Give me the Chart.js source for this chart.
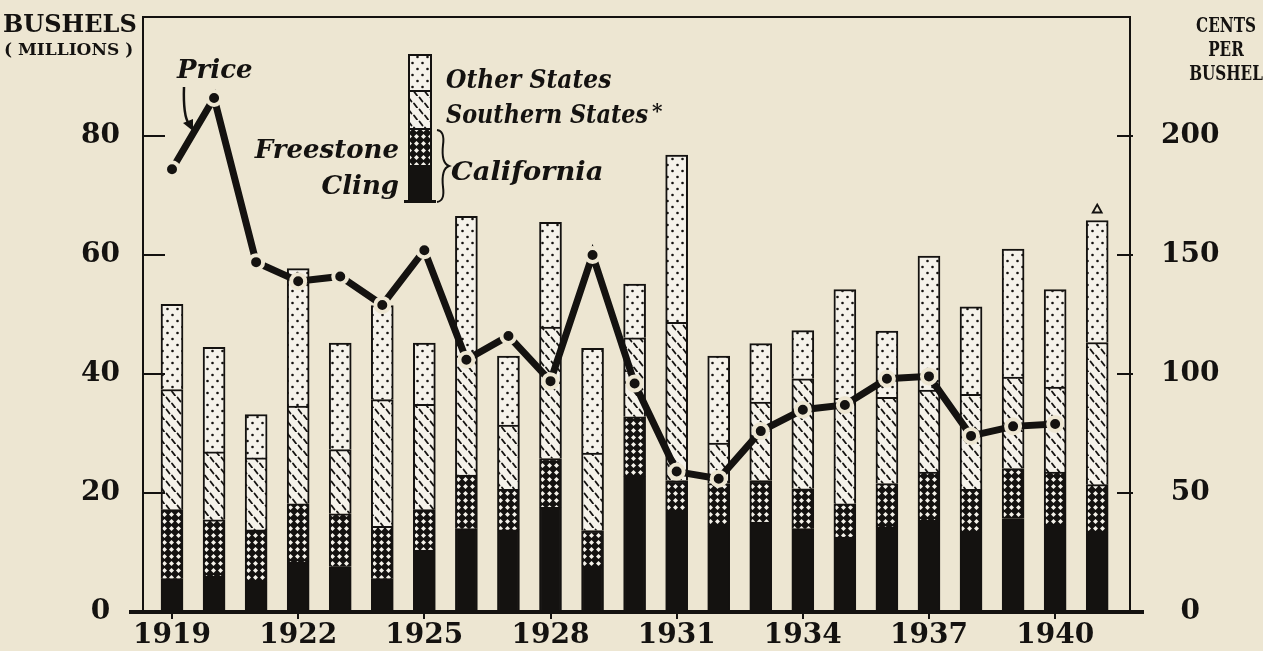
<!DOCTYPE html>
<html>
<head>
<meta charset="utf-8">
<title>Peaches: production and price, 1919-1941</title>
<script src="https://cdn.jsdelivr.net/npm/chart.js@4.4.1/dist/chart.umd.min.js"></script>
<style>
  html, body { margin: 0; padding: 0; background: #ede6d2; }
  #wrap { width: 1263px; height: 651px; position: relative; }
</style>
</head>
<body>
<div id="wrap"><canvas id="grafico"></canvas></div>
<script>
// production by group, millions of bushels
var years = [1919, 1920, 1921, 1922, 1923, 1924, 1925, 1926, 1927, 1928, 1929, 1930,
             1931, 1932, 1933, 1934, 1935, 1936, 1937, 1938, 1939, 1940, 1941]
var cling     = [5.6, 6.0, 5.0, 8.4, 7.6, 5.6, 10.4, 14.0, 13.8, 17.6, 7.7, 22.7,
                 17.1, 14.4, 15.1, 14.0, 12.6, 14.3, 15.4, 13.4, 15.7, 14.6, 13.4]
var freestone = [11.6, 9.5, 8.8, 9.8, 8.9, 8.8, 6.8, 9.0, 6.8, 8.2, 6.0, 10.1,
                 5.0, 7.2, 7.0, 6.7, 5.6, 7.3, 8.1, 7.2, 8.4, 8.9, 8.0]
var southern  = [20.2, 11.4, 12.1, 16.4, 10.8, 21.3, 17.7, 20.0, 10.8, 22.1, 13.0, 13.3,
                 26.6, 6.8, 13.2, 18.5, 17.7, 14.5, 13.8, 16.0, 15.4, 14.3, 23.9]
var other     = [14.3, 17.6, 7.3, 23.1, 17.9, 15.8, 10.3, 23.5, 11.6, 17.6, 17.6, 9.0,
                 28.1, 14.6, 9.8, 8.1, 18.3, 11.1, 22.5, 14.7, 21.5, 16.4, 20.5]

// price, cents per bushel
var priceYears = [1919, 1920, 1921, 1922, 1923, 1924, 1925, 1926, 1927, 1928, 1929,
                  1930, 1931, 1932, 1933, 1934, 1935, 1936, 1937, 1938, 1939, 1940]
var price = [186, 216, 147, 139, 141, 129, 152, 106, 116, 97, 150,
             96, 59, 56, 76, 85, 87, 98, 99, 74, 78, 79]

var yearLabels = [1919, 1922, 1925, 1928, 1931, 1934, 1937, 1940]
var bushelTicks = [0, 20, 40, 60, 80]
var centTicks = [0, 50, 100, 150, 200]

var BG = '#ede6d2'
var LIGHT = '#f5f2ea'
var INK = '#141210'

var canvas = document.getElementById('grafico')
var ctx = canvas.getContext('2d')

function makePattern(w, h, draw) {
  var c = document.createElement('canvas')
  c.width = w
  c.height = h
  draw(c.getContext('2d'))
  return ctx.createPattern(c, 'repeat')
}

var dotsPattern = makePattern(10, 12, function (g) {
  g.fillStyle = LIGHT
  g.fillRect(0, 0, 10, 12)
  g.fillStyle = INK
  g.beginPath(); g.arc(2.5, 3, 1.3, 0, Math.PI * 2); g.fill()
  g.beginPath(); g.arc(7.5, 9, 1.3, 0, Math.PI * 2); g.fill()
})

var dashPattern = makePattern(11, 12, function (g) {
  g.fillStyle = LIGHT
  g.fillRect(0, 0, 11, 12)
  g.strokeStyle = INK
  g.lineWidth = 1.8
  g.lineCap = 'round'
  g.beginPath(); g.moveTo(1.5, 1.5); g.lineTo(4.5, 5.5); g.stroke()
  g.beginPath(); g.moveTo(7, 7.5); g.lineTo(10, 11.5); g.stroke()
})

var crossPattern = makePattern(7, 7, function (g) {
  g.fillStyle = INK
  g.fillRect(0, 0, 7, 7)
  g.fillStyle = LIGHT
  g.beginPath()
  g.moveTo(3.5, 1); g.lineTo(6, 3.5); g.lineTo(3.5, 6); g.lineTo(1, 3.5)
  g.closePath()
  g.fill()
})

function points(xs, ys) {
  return xs.map(function (x, i) { return { x: x, y: ys[i] } })
}

function barSet(label, values, fill) {
  return {
    type: 'bar',
    label: label,
    data: points(years, values),
    backgroundColor: fill,
    borderColor: INK,
    borderWidth: 2,
    barThickness: 22,
    yAxisID: 'y',
    order: 1
  }
}

// text squeezed sideways, the old type is narrower than DejaVu
function squeezed(c, text, x, y, sx) {
  c.save()
  c.translate(x, y)
  c.scale(sx, 1)
  c.fillText(text, 0, 0)
  c.restore()
}

var serif = 'DejaVu Serif'
var tickFont = { family: serif, weight: 'bold', size: 28 }

// background, frame, inward ticks, key and notes
var decor = {
  id: 'decor',
  beforeDraw: function (chart) {
    var c = chart.ctx
    c.save()
    c.fillStyle = BG
    c.fillRect(0, 0, chart.width, chart.height)
    c.restore()
  },
  afterDraw: function (chart) {
    var c = chart.ctx
    var a = chart.chartArea
    var sy = chart.scales.y
    var sy2 = chart.scales.y2
    var sx = chart.scales.x
    c.save()
    c.strokeStyle = INK
    c.fillStyle = INK

    // frame
    c.lineWidth = 2
    c.beginPath()
    c.moveTo(a.left, a.bottom); c.lineTo(a.left, a.top); c.lineTo(a.right, a.top); c.lineTo(a.right, a.bottom)
    c.stroke()
    c.lineWidth = 4
    c.beginPath(); c.moveTo(a.left - 14, a.bottom); c.lineTo(a.right + 14, a.bottom); c.stroke()

    c.lineWidth = 2
    bushelTicks.slice(1).forEach(function (v) {
      var y = sy.getPixelForValue(v)
      c.beginPath(); c.moveTo(a.left, y); c.lineTo(a.left + 22, y); c.stroke()
    })
    centTicks.slice(1).forEach(function (v) {
      var y = sy2.getPixelForValue(v)
      c.beginPath(); c.moveTo(a.right - 13, y); c.lineTo(a.right + 3, y); c.stroke()
    })

    // axis titles
    c.font = 'bold 24px "' + serif + '"'
    c.textAlign = 'left'
    c.textBaseline = 'alphabetic'
    c.fillText('BUSHELS', 3, 32)
    c.font = 'bold 17px "' + serif + '"'
    c.fillText('( MILLIONS )', 4, 55)
    c.font = 'bold 20px "' + serif + '"'
    c.textAlign = 'center'
    squeezed(c, 'CENTS', 1226, 32, 0.76)
    squeezed(c, 'PER', 1226, 56, 0.76)
    squeezed(c, 'BUSHEL', 1226, 80, 0.76)

    // key bar
    var kx = 409, kw = 22
    var keys = [[55, 91, dotsPattern], [91, 129, dashPattern], [129, 166, crossPattern], [166, 201, INK]]
    keys.forEach(function (k) {
      c.fillStyle = k[2]
      c.fillRect(kx, k[0], kw, k[1] - k[0])
      c.strokeStyle = INK
      c.lineWidth = 2
      c.strokeRect(kx, k[0], kw, k[1] - k[0])
    })
    c.fillStyle = INK
    c.fillRect(404, 200, 32, 3)

    // key text
    c.font = 'italic bold 26px "' + serif + '"'
    c.textAlign = 'left'
    squeezed(c, 'Other States', 446, 88, 0.9)
    squeezed(c, 'Southern States', 446, 123, 0.86)
    var sw = c.measureText('Southern States').width * 0.86
    c.font = 'bold 20px "' + serif + '"'
    c.fillText('*', 446 + sw + 4, 118)
    c.font = 'italic bold 26px "' + serif + '"'
    squeezed(c, 'California', 451, 180, 1.05)
    c.textAlign = 'right'
    c.fillText('Freestone', 399, 158)
    c.fillText('Cling', 399, 194)

    // brace
    c.lineWidth = 2
    c.beginPath()
    c.moveTo(437, 130)
    c.quadraticCurveTo(445, 131, 443, 145)
    c.quadraticCurveTo(441, 163, 449, 166)
    c.quadraticCurveTo(441, 169, 443, 187)
    c.quadraticCurveTo(445, 201, 437, 202)
    c.stroke()

    // price note and arrow
    c.textAlign = 'left'
    c.fillText('Price', 177, 78)
    c.lineWidth = 2.5
    c.beginPath()
    c.moveTo(184, 87)
    c.quadraticCurveTo(183, 116, 189, 124)
    c.stroke()
    c.beginPath()
    c.moveTo(193, 131); c.lineTo(183, 123); c.lineTo(193, 119)
    c.closePath()
    c.fill()

    // open triangle over the last bar
    var last = years.length - 1
    var total = cling[last] + freestone[last] + southern[last] + other[last]
    var tx = sx.getPixelForValue(years[last])
    var ty = sy.getPixelForValue(total) - 11
    c.lineWidth = 1.8
    c.beginPath()
    c.moveTo(tx, ty - 5); c.lineTo(tx + 4.5, ty + 3); c.lineTo(tx - 4.5, ty + 3)
    c.closePath()
    c.stroke()
    c.restore()
  }
}

// keep the value axes from reserving room above and below for their labels
function fixWidth(w) {
  return function (s) {
    s.width = w
    s.paddingTop = 0
    s.paddingBottom = 0
  }
}

var chart = new Chart(canvas, {
  data: {
    datasets: [
      {
        type: 'line',
        label: 'Price',
        data: points(priceYears, price),
        yAxisID: 'y2',
        borderColor: INK,
        borderWidth: 7,
        borderCapStyle: 'butt',
        pointRadius: 7,
        pointBackgroundColor: INK,
        pointBorderColor: BG,
        pointBorderWidth: 4,
        tension: 0,
        order: 0
      },
      barSet('Cling', cling, INK),
      barSet('Freestone', freestone, crossPattern),
      barSet('Southern States', southern, dashPattern),
      barSet('Other States', other, dotsPattern)
    ]
  },
  options: {
    responsive: true,
    maintainAspectRatio: false,
    animation: false,
    layout: { padding: { top: 17, left: 0, right: 0, bottom: 0 } },
    plugins: { legend: { display: false }, tooltip: { enabled: false } },
    scales: {
      x: {
        type: 'linear',
        min: 1918.31,
        max: 1941.78,
        offset: false,
        stacked: true,
        afterBuildTicks: function (s) { s.ticks = yearLabels.map(function (v) { return { value: v } }) },
        afterFit: function (s) { s.height = 39; s.paddingLeft = 0; s.paddingRight = 0 },
        grid: { display: true, offset: false, drawOnChartArea: false, drawTicks: true, tickLength: 7, color: INK, lineWidth: 2 },
        border: { display: false },
        ticks: { font: tickFont, color: INK, padding: 0, maxRotation: 0, autoSkip: false,
                 callback: function (v) { return String(v) } }
      },
      y: {
        type: 'linear',
        position: 'left',
        min: 0,
        max: 100,
        stacked: true,
        afterBuildTicks: function (s) { s.ticks = bushelTicks.map(function (v) { return { value: v } }) },
        afterFit: fixWidth(143),
        grid: { display: false, drawTicks: false },
        border: { display: false },
        ticks: { font: tickFont, color: INK, padding: 23, crossAlign: 'center' }
      },
      y2: {
        type: 'linear',
        position: 'right',
        min: 0,
        max: 250,
        afterBuildTicks: function (s) { s.ticks = centTicks.map(function (v) { return { value: v } }) },
        afterFit: fixWidth(133),
        grid: { display: false, drawTicks: false },
        border: { display: false },
        ticks: { font: tickFont, color: INK, padding: 31, crossAlign: 'center' }
      }
    }
  },
  plugins: [decor]
})
</script>
</body>
</html>
